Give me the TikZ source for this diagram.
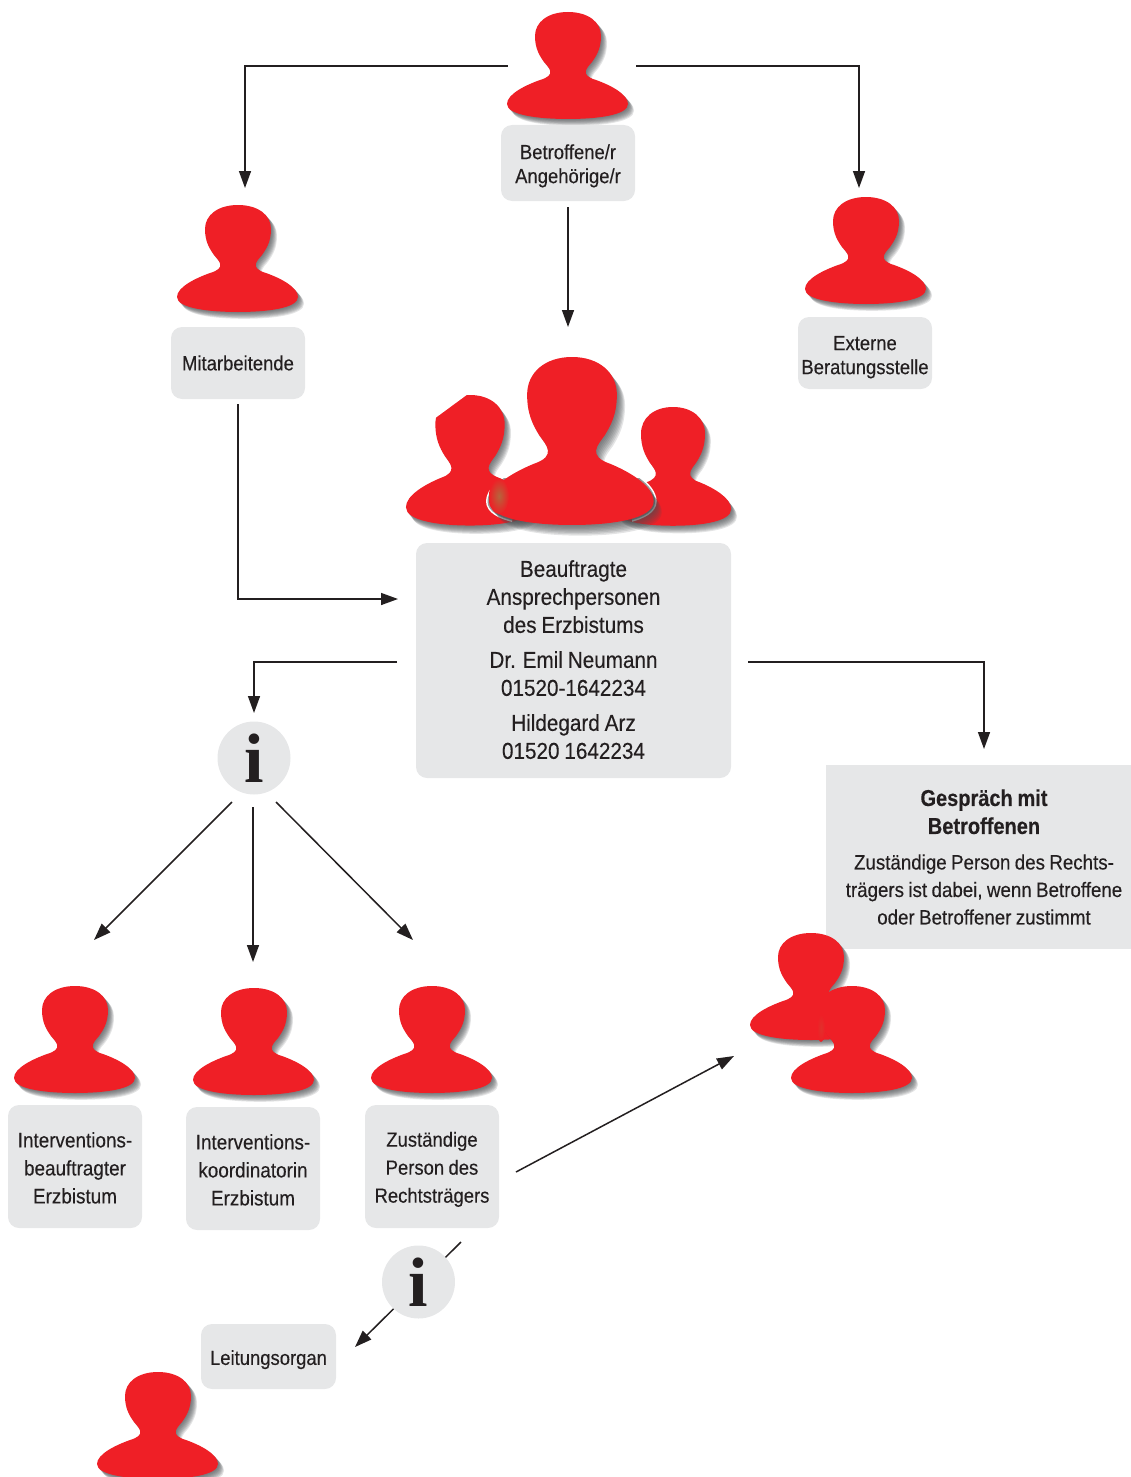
\documentclass[tikz,border=0pt]{standalone}
\usepackage{fontspec}
\setmainfont[FakeStretch=0.9,FakeBold=0.25,WordSpace=0.85,BoldFeatures={FakeStretch=0.87,FakeBold=0.25}]{Liberation Sans}
\newfontfamily\infofont{Liberation Serif}
\usetikzlibrary{arrows.meta,calc}
\definecolor{ink}{HTML}{231F20}
\definecolor{boxgrey}{HTML}{E6E7E8}
\definecolor{personred}{HTML}{EF1F26}
\definecolor{shadowgrey}{HTML}{4A4D50}
\definecolor{tinge}{HTML}{B5653C}
\tikzset{
  x=1pt,y=-1pt,
  conn/.style={draw=ink,line width=1.5pt,-{Triangle[length=17pt,width=12pt]}},
  infobox/.style={fill=boxgrey,rounded corners=11pt,text=ink,align=center,inner sep=0pt,
    minimum width=134pt,font=\fontsize{20.5}{28}\selectfont},
  infodisc/.style={circle,fill=boxgrey,minimum size=73pt,inner sep=0pt,text=ink,
    font=\infofont\bfseries\fontsize{70}{70}\selectfont},
  personanchor/.style={inner sep=0pt,minimum width=122pt,minimum height=108pt},
}
\newcommand{\gtitle}[1]{{\bfseries\fontsize{23}{28}\selectfont #1}}
\newcommand{\tdown}[1]{\rule{0pt}{#1pt}}
\newcommand{\tup}[1]{\rule[-#1pt]{0pt}{0pt}}
\newcommand{\personpath}{(0,0) .. controls (20,0) and (33,10) .. (33,24)
 .. controls (33,36) and (29,43) .. (24,50) .. controls (19,56) and (11,63) .. (28,68)
 .. controls (42,73) and (60,82) .. (60,92) .. controls (60,103) and (30,107) .. (0,107)
 .. controls (-30,107) and (-61,103) .. (-61,92) .. controls (-61,82) and (-42,73) .. (-28,68)
 .. controls (-11,63) and (-19,56) .. (-24,50) .. controls (-29,43) and (-33,36) .. (-33,24)
 .. controls (-33,10) and (-20,0) .. (0,0) -- cycle}
% #1 centre x, #2 top y, #3 xscale, #4 yscale
\newcommand{\persongfx}[4]{%
  \begin{scope}[shift={(#1,#2)},xscale=#3,yscale=#4]
    \foreach \d in {8,7,...,1}{%
      \fill[shadowgrey,opacity=0.15,shift={(\d*0.75,\d*0.85)}] \personpath;
    }
    \fill[personred] \personpath;
  \end{scope}}
\begin{document}
\begin{tikzpicture}
\useasboundingbox (0,0) rectangle (1130,1477);

% persons
\persongfx{568}{12}{1}{1}
\persongfx{238}{205}{1}{1}
\persongfx{866}{197}{1}{1}
\persongfx{75}{986}{1}{1}
\persongfx{254}{988}{1}{1}
\persongfx{432}{986}{1}{1}
\persongfx{158}{1372}{1}{1}

% group
\persongfx{470}{395}{1.05}{1.22}
\fill[white] (430,392) -- (470,392.5) -- (436,417.5) -- (430,420) -- cycle;
\persongfx{673}{407}{0.97}{1.11}
\begin{scope}
  \clip (480,478) rectangle (512,540) (632,478) rectangle (670,540);
  \begin{scope}[shift={(572,357)},xscale=1.36,yscale=1.57]
    \draw[white,line width=6pt] \personpath;
    \draw[black!40,line width=3pt] \personpath;
  \end{scope}
\end{scope}
\persongfx{572}{357}{1.36}{1.57}
\begin{scope}
  \begin{scope}[shift={(572,357)},xscale=1.36,yscale=1.57]
    \clip \personpath;
  \end{scope}
  \shade[inner color=tinge,outer color=personred] (499,496) ellipse [x radius=10pt,y radius=18pt];
\end{scope}

% text boxes
\node[infobox,minimum height=76pt,font=\fontsize{20.5}{24}\selectfont] (betroffene) at (568,163) {\tdown{20.5}Betroffene/r\\Angehörige/r};
\node[infobox,minimum height=72pt] (mitarb) at (238,363) {Mitarbeitende};
\node[infobox,minimum height=72pt,font=\fontsize{20.5}{24}\selectfont] (extern) at (865,353) {\tdown{22.5}Externe\\Beratungsstelle};
\node[infobox,minimum width=315pt,minimum height=235pt,font=\fontsize{23}{28}\selectfont] (beauf) at (573.5,660.5)
  {Beauftragte\\Ansprechpersonen\\des Erzbistums\\[7pt]Dr. Emil Neumann\\01520-1642234\\[7pt]Hildegard Arz\\01520 1642234\tup{2}};
\node[infobox,rounded corners=0pt,minimum width=316pt,minimum height=184pt,font=\fontsize{20.8}{27.5}\selectfont] (gespraech) at (984,857)
  {\gtitle{Gespräch mit}\\[.5pt]\gtitle{Betroffenen}\\[8pt]Zuständige Person des Rechts-\\trägers ist dabei, wenn Betroffene\\oder Betroffener zustimmt};
\node[infobox,minimum height=123pt,font=\fontsize{21}{28}\selectfont] (ibeauf) at (75,1166.5) {\tdown{18}Interventions-\\beauftragter\\Erzbistum};
\node[infobox,minimum height=123pt,font=\fontsize{21}{28}\selectfont] (ikoord) at (253,1168.5) {\tdown{18}Interventions-\\koordinatorin\\Erzbistum};
\node[infobox,minimum height=123pt] (zust) at (432,1166.5) {\tdown{20.5}Zuständige\\Person des\\Rechtsträgers};
\node[infobox,minimum width=135pt,minimum height=65pt] (leitung) at (268.5,1356.5) {\tdown{21}Leitungsorgan};

% pair, in front of the box above it
\persongfx{811}{933}{1}{1}
\persongfx{852}{986}{1}{1}
\shade[inner color=tinge!25!personred,outer color=personred] (821,1028) ellipse [x radius=4pt,y radius=14pt];

% invisible anchors of the figures
\node[personanchor] (pTop) at (568,66) {};
\coordinate (toMit) at (245,188);
\coordinate (toExt) at (859,188);
\coordinate (toGroup) at (568,327);
\coordinate (toBeaufIn) at (398,599);
\coordinate (outL) at (397,662);
\coordinate (outR) at (748,662);
\coordinate (toInfo) at (254,713);
\coordinate (toGes) at (984,749);
\coordinate (toI1) at (94,940);
\coordinate (toI2) at (253,962);
\coordinate (toI3) at (413,940);
\coordinate (toPair) at (734,1056);
\coordinate (zustOut) at (516,1172);
\coordinate (zustDown) at (461,1242);
\coordinate (toLeit) at (355,1347);

% connector passing behind the disc
\draw[conn] (zustDown) -- (toLeit);

% info discs
\node[infodisc] (info1) at (254,758) {i};
\node[infodisc] (info2) at (418.5,1282) {i};

% connectors
\draw[conn] ([xshift=1pt]pTop.west) -| (toMit);
\draw[conn] ([xshift=7pt]pTop.east) -| (toExt);
\draw[conn] ([yshift=-6pt]betroffene.south) -- (toGroup);
\draw[conn] ([yshift=-5pt]mitarb.south) |- (toBeaufIn);
\draw[conn] (outL) -| (toInfo);
\draw[conn] (outR) -| (toGes);
\draw[conn] ($(info1)+(-22,44)$) -- (toI1);
\draw[conn] ($(info1)+(-1,49)$) -- (toI2);
\draw[conn] ($(info1)+(22,44)$) -- (toI3);
\draw[conn] (zustOut) -- (toPair);
\end{tikzpicture}
\end{document}
